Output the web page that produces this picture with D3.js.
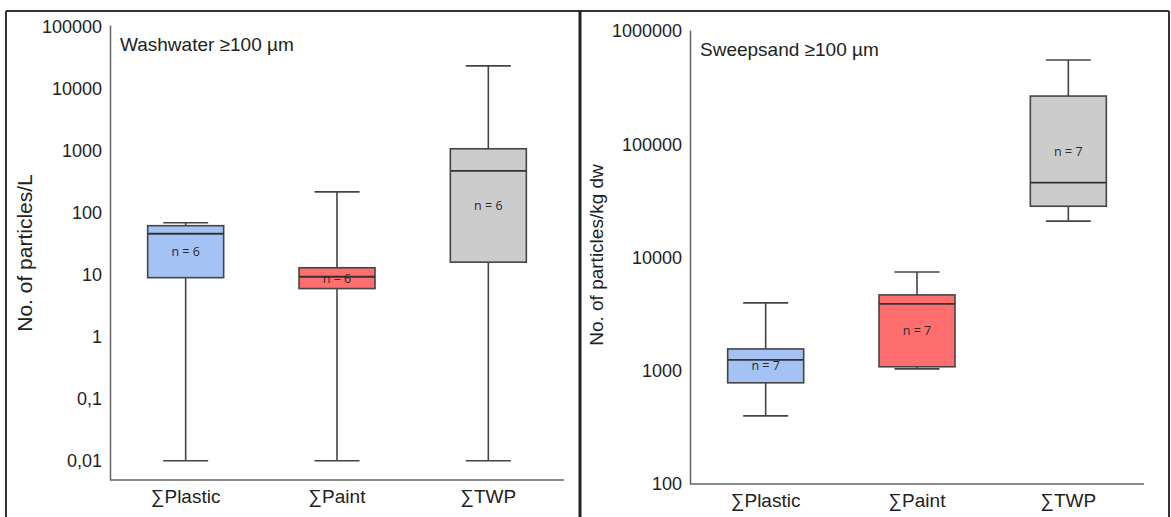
<!DOCTYPE html>
<html><head><meta charset="utf-8">
<script src="https://cdn.jsdelivr.net/npm/d3@7"></script>
<style>body{margin:0;background:#fff}svg{display:block}</style>
</head><body><svg id="c" width="1171" height="517"></svg>
<script>
const categories = ["∑Plastic", "∑Paint", "∑TWP"];
const colors = ["#a4c2f4", "#ff6e6e", "#cccccc"];

// Washwater (particles/L): [whiskerLow, q1, median, q3, whiskerHigh]
const washTitle = "Washwater ≥100 µm";
const washYLabel = "No. of particles/L";
const washStats = [
  [0.01, 9, 46, 62, 69],
  [0.01, 6, 9.3, 13, 218],
  [0.01, 16, 475, 1080, 23500]
];
const washN = [6, 6, 6];
const washTicks = [0.01, 0.1, 1, 10, 100, 1000, 10000, 100000];
const washTickLabels = ["0,01", "0,1", "1", "10", "100", "1000", "10000", "100000"];

// Sweepsand (particles/kg dw)
const sandTitle = "Sweepsand ≥100 µm";
const sandYLabel = "No. of particles/kg dw";
const sandStats = [
  [400, 783, 1250, 1560, 3980],
  [1040, 1085, 3900, 4680, 7450],
  [21000, 28400, 46000, 267000, 556000]
];
const sandN = [7, 7, 7];
const sandTicks = [100, 1000, 10000, 100000, 1000000];
const sandTickLabels = ["100", "1000", "10000", "100000", "1000000"];

const svg = d3.select("#c");
const FF = "Liberation Sans, Arial, sans-serif";

// panel frames
svg.append("line").attr("x1",6).attr("x2",1169).attr("y1",11).attr("y2",11).attr("stroke","#333").attr("stroke-width",2);
svg.append("line").attr("x1",6).attr("x2",6).attr("y1",11).attr("y2",517).attr("stroke","#333").attr("stroke-width",2);
svg.append("line").attr("x1",580).attr("x2",580).attr("y1",11).attr("y2",517).attr("stroke","#222").attr("stroke-width",3);
svg.append("line").attr("x1",1169).attr("x2",1169).attr("y1",11).attr("y2",517).attr("stroke","#333").attr("stroke-width",2);

function panel(o) {
  const g = svg.append("g");
  const y = d3.scaleLog().domain(o.domain).range([o.bottom, o.top]);
  const x = d3.scaleBand().domain(categories).range([o.left, o.right]).paddingInner(0).paddingOuter(0);
  const bw = 76, cw = 45;

  const ya = d3.axisLeft(y).tickValues(o.ticks).tickSize(0).tickPadding(8)
      .tickFormat((d,i)=>o.tickLabels[i]);
  const yg = g.append("g").attr("transform",`translate(${o.left},0)`).call(ya);
  yg.select(".domain").attr("stroke","#666").attr("stroke-width",1.5);
  yg.selectAll("text").attr("font-family",FF).attr("font-size",18).attr("fill","#222");

  const xa = d3.axisBottom(x).tickSize(0).tickPadding(10);
  const xg = g.append("g").attr("transform",`translate(0,${o.bottom})`).call(xa);
  xg.select(".domain").attr("stroke","#666").attr("stroke-width",1.5).attr("d",`M${o.left},0H${o.right}`);
  xg.selectAll("text").attr("font-family",FF).attr("font-size",19).attr("fill","#222");

  g.append("text").attr("x",o.left+10).attr("y",o.top+26).text(o.title)
    .attr("font-family",FF).attr("font-size",19).attr("fill","#222");
  g.append("text").attr("transform",`translate(${o.ylx},${o.ylc}) rotate(-90)`)
    .attr("text-anchor","middle").text(o.ylabel)
    .attr("font-family",FF).attr("font-size",o.ylfs).attr("fill","#222");

  o.stats.forEach((s,i)=>{
    const cx = x(categories[i]) + x.bandwidth()/2;
    const [lo,q1,med,q3,hi] = s;
    const st = "#444", sw = 1.6;
    g.append("line").attr("x1",cx).attr("x2",cx).attr("y1",y(hi)).attr("y2",y(q3)).attr("stroke",st).attr("stroke-width",sw);
    g.append("line").attr("x1",cx).attr("x2",cx).attr("y1",y(q1)).attr("y2",y(lo)).attr("stroke",st).attr("stroke-width",sw);
    g.append("line").attr("x1",cx-cw/2).attr("x2",cx+cw/2).attr("y1",y(hi)).attr("y2",y(hi)).attr("stroke",st).attr("stroke-width",sw);
    g.append("line").attr("x1",cx-cw/2).attr("x2",cx+cw/2).attr("y1",y(lo)).attr("y2",y(lo)).attr("stroke",st).attr("stroke-width",sw);
    g.append("rect").attr("x",cx-bw/2).attr("y",y(q3)).attr("width",bw).attr("height",y(q1)-y(q3))
      .attr("fill",colors[i]).attr("stroke",st).attr("stroke-width",sw);
    g.append("line").attr("x1",cx-bw/2).attr("x2",cx+bw/2).attr("y1",y(med)).attr("y2",y(med)).attr("stroke","#333").attr("stroke-width",1.8);
    g.append("text").attr("x",cx).attr("y",(y(q1)+y(q3))/2+4.5).attr("text-anchor","middle")
      .text("n = "+o.n[i]).attr("font-family","Open Sans, sans-serif").attr("font-size",12.5).attr("fill","#2a2a2a");
  });
}

panel({title:washTitle, ylabel:washYLabel, stats:washStats, n:washN, ticks:washTicks, tickLabels:washTickLabels,
  domain:[Math.pow(10,-2.31), Math.pow(10,5.03)], left:110, right:564, top:25, bottom:480, ylx:32, ylc:253, ylfs:21});
panel({title:sandTitle, ylabel:sandYLabel, stats:sandStats, n:sandN, ticks:sandTicks, tickLabels:sandTickLabels,
  domain:[100, Math.pow(10,6.01)], left:690, right:1144, top:30, bottom:484, ylx:603, ylc:255, ylfs:19});
</script></body></html>
